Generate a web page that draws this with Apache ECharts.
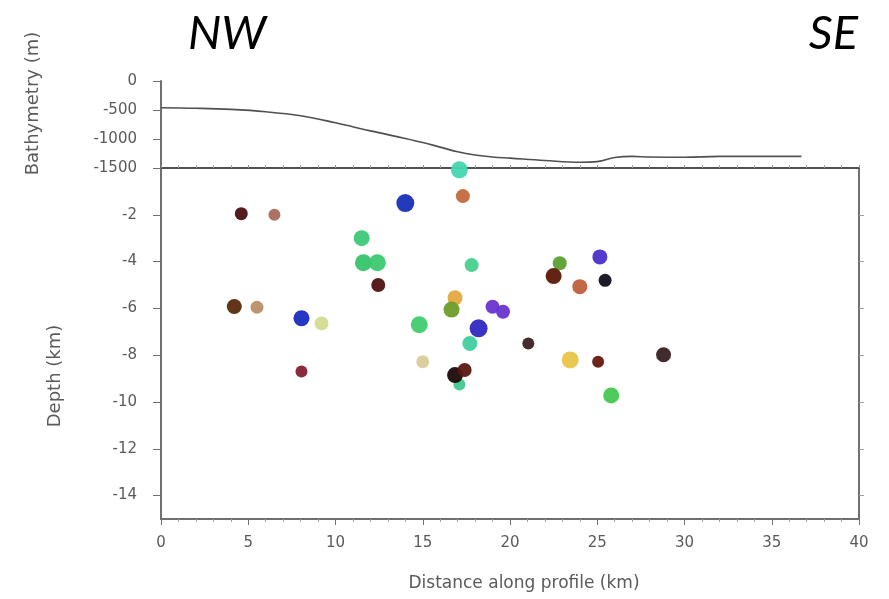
<!DOCTYPE html>
<html>
<head>
<meta charset="utf-8">
<title>Profile NW-SE</title>
<script src="https://cdn.jsdelivr.net/npm/echarts@6/dist/echarts.min.js"></script>
<style>
  html, body { margin: 0; padding: 0; background: #fff; }
  #chart { width: 889px; height: 599px; }
</style>
</head>
<body>
<div id="chart"></div>
<script>
// bathymetry profile (distance km, depth m)
var bathyKm = [0, 2, 4, 6, 8, 10, 12, 14, 15, 16, 17, 18, 19, 20, 22, 24, 25, 26, 27, 28, 30, 32, 34, 36.7];
var bathyM = [-460, -470, -490, -530, -600, -720, -860, -990, -1060, -1140, -1220, -1275, -1310, -1330, -1370, -1400, -1390, -1320, -1300, -1310, -1315, -1300, -1300, -1300];

// earthquakes (distance km, depth km)
var quakeKm = [4.6, 6.5, 14.0, 17.1, 17.3, 11.5, 11.6, 12.4, 12.45, 17.8,
  4.2, 5.5, 8.05, 9.2, 14.8, 16.85, 16.65, 19.0, 19.6, 18.2,
  17.7, 21.05, 15.0, 17.1, 16.85, 17.4, 25.15, 22.85, 22.5, 24.0,
  25.45, 23.45, 25.05, 25.8, 28.8, 8.05];
var quakeDepth = [-1.95, -2.0, -1.5, -0.08, -1.2, -3.0, -4.05, -4.05, -5.0, -4.15,
  -5.92, -5.95, -6.42, -6.64, -6.7, -5.55, -6.05, -5.93, -6.14, -6.85,
  -7.5, -7.5, -8.28, -9.25, -8.85, -8.63, -3.8, -4.07, -4.62, -5.07,
  -4.8, -8.2, -8.28, -9.72, -7.98, -8.7];

// per-point style
var quakeColors = ['#4a0f14', '#a86c5c', '#1530b8', '#45d6b0', '#c46a3c', '#3cc878', '#36c46a', '#3cc870', '#4e1210', '#48d08c',
  '#5a2a0c', '#b89068', '#1a2cc0', '#d4dc90', '#40cc70', '#e6a840', '#6c9c28', '#6a34d0', '#6a34d0', '#3028c0',
  '#40d0a0', '#3c2024', '#d8cc98', '#40c890', '#1c0808', '#5a1810', '#4c30c8', '#5aa030', '#5c1806', '#c0603c',
  '#10101c', '#e8c448', '#641a10', '#44c850', '#3a2020', '#842030'];
var quakeSizes = [13, 12, 18, 17, 14, 16, 17, 17, 14, 14,
  15, 13, 16, 14, 17, 15, 16, 14, 14, 18,
  15, 12, 13, 12, 16, 14, 15, 14, 16, 15,
  13, 17, 12, 16, 15, 12];

var xTicks = [0, 5, 10, 15, 20, 25, 30, 35, 40];
var depthTicks = [-14, -12, -10, -8, -6, -4, -2];

var axisColor = '#707070';
var textColor = '#5a5a5a';
var font = 'DejaVu Sans';

var chart = echarts.init(document.getElementById('chart'));

var bathyData = bathyKm.map(function (k, i) { return [k, bathyM[i]]; });
var quakeData = quakeKm.map(function (k, i) { return [k, quakeDepth[i]]; });

var option = {
  backgroundColor: '#fff',
  animation: false,
  title: [
    { text: 'NW', left: 183, top: 5, textStyle: { fontFamily: 'Lato', fontStyle: 'italic', fontWeight: 'normal', fontSize: 47, color: '#000' } },
    { text: 'SE', right: 26, top: 5, textStyle: { fontFamily: 'Lato', fontStyle: 'italic', fontWeight: 'normal', fontSize: 47, color: '#000' } }
  ],
  grid: [
    { left: 161, right: 30, top: 81, height: 87 },
    { left: 161, right: 30, top: 168, height: 351 }
  ],
  xAxis: [
    {
      gridIndex: 0, type: 'value', min: 0, max: 40, interval: 5, position: 'bottom',
      axisLine: { show: true, onZero: false, lineStyle: { color: '#505050', width: 2 } },
      axisTick: { show: true, inside: true, length: 3, lineStyle: { color: '#909090' } },
      minorTick: { show: true, splitNumber: 5, length: 3, lineStyle: { color: '#a0a0a0' } },
      axisLabel: { show: false },
      splitLine: { show: false }
    },
    {
      gridIndex: 1, type: 'value', min: 0, max: 40, interval: 5, position: 'bottom',
      name: 'Distance along profile (km)', nameLocation: 'middle', nameGap: 56,
      nameTextStyle: { color: textColor, fontSize: 17, fontFamily: font, padding: [0, 0, 0, 28] },
      axisLine: { show: true, onZero: false, lineStyle: { color: axisColor, width: 2 } },
      axisTick: { show: true, length: 6, lineStyle: { color: axisColor } },
      minorTick: { show: true, splitNumber: 5, length: 3, lineStyle: { color: '#a0a0a0' } },
      axisLabel: { color: textColor, fontSize: 15, fontFamily: font, margin: 17, customValues: xTicks },
      splitLine: { show: false }
    }
  ],
  yAxis: [
    {
      gridIndex: 0, type: 'value', min: -1500, max: 0, interval: 500,
      name: 'Bathymetry (m)', nameLocation: 'middle', nameGap: 119,
      nameTextStyle: { color: textColor, fontSize: 18, fontFamily: font, padding: [0, 0, 0, 42] },
      axisLine: { show: true, lineStyle: { color: axisColor, width: 2 } },
      axisTick: { show: true, length: 8, lineStyle: { color: axisColor } },
      axisLabel: {
        color: textColor, fontSize: 15, fontFamily: font, margin: 24,
        formatter: function (v) { return String(v); }
      },
      splitLine: { show: false }
    },
    {
      gridIndex: 1, type: 'value', min: -15, max: 0,
      name: 'Depth (km)', nameLocation: 'middle', nameGap: 97,
      nameTextStyle: { color: textColor, fontSize: 18, fontFamily: font, padding: [0, 65, 0, 0] },
      axisLine: { show: true, lineStyle: { color: axisColor, width: 2 } },
      axisTick: { show: true, length: 8, customValues: depthTicks, lineStyle: { color: axisColor } },
      axisLabel: { color: textColor, fontSize: 15, fontFamily: font, margin: 24, customValues: depthTicks },
      splitLine: { show: false }
    },
    {
      gridIndex: 1, type: 'value', min: -15, max: 0, position: 'right',
      axisLine: { show: true, lineStyle: { color: axisColor, width: 2 } },
      axisTick: { show: true, length: 5, customValues: depthTicks, lineStyle: { color: '#a0a0a0' } },
      axisLabel: { show: false },
      splitLine: { show: false }
    }
  ],
  series: [
    {
      name: 'Bathymetry', type: 'line', xAxisIndex: 0, yAxisIndex: 0,
      data: bathyData, smooth: 0.4, showSymbol: false,
      lineStyle: { color: '#505050', width: 1.6 }
    },
    {
      name: 'Earthquakes', type: 'scatter', xAxisIndex: 1, yAxisIndex: 1,
      data: quakeData,
      symbolSize: function (val, params) { return quakeSizes[params.dataIndex]; },
      itemStyle: {
        color: function (params) { return quakeColors[params.dataIndex]; },
        opacity: 0.95
      }
    }
  ]
};

chart.setOption(option);
window.addEventListener('resize', function () { chart.resize(); });
</script>
</body>
</html>
